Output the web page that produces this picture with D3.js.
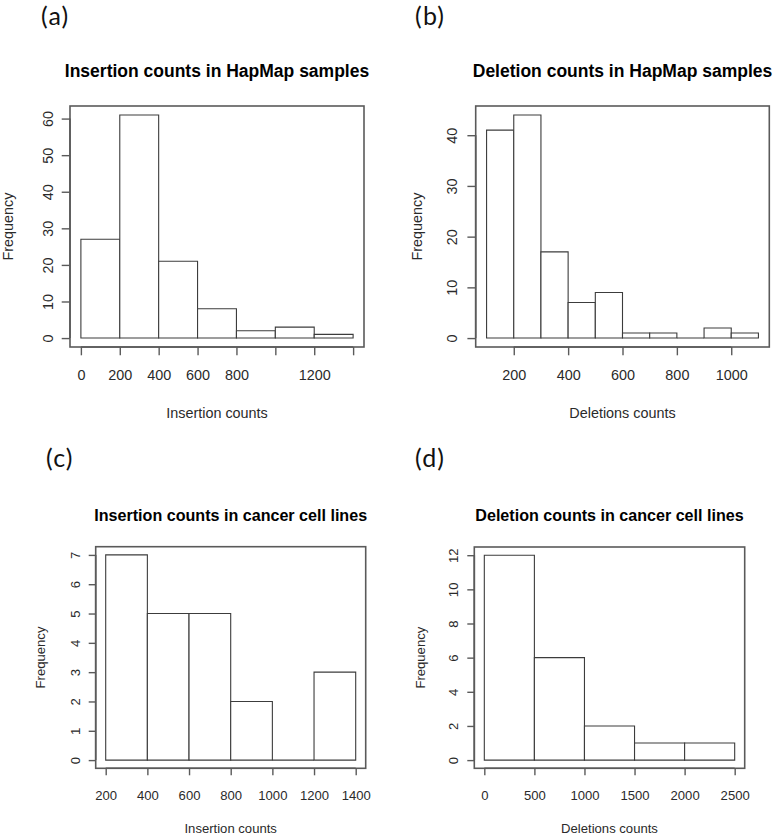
<!DOCTYPE html>
<html>
<head>
<meta charset="utf-8">
<script src="https://cdn.jsdelivr.net/npm/d3@7"></script>
<style>
  html, body { margin: 0; padding: 0; background: #fff; }
  svg { display: block; }
</style>
</head>
<body>
<svg id="chart" width="776" height="836"></svg>
<script>
// ---------- DATA ----------
const insHapBreaks = [0, 200, 400, 600, 800, 1000, 1200, 1400];
const insHapCounts = [27, 61, 21, 8, 2, 3, 1];
const insHapXTicks = [0, 200, 400, 600, 800, 1000, 1200, 1400];
const insHapXLabels = ["0", "200", "400", "600", "800", "", "1200", ""];
const insHapYTicks = [0, 10, 20, 30, 40, 50, 60];

const delHapBreaks = [100, 200, 300, 400, 500, 600, 700, 800, 900, 1000, 1100];
const delHapCounts = [41, 44, 17, 7, 9, 1, 1, 0, 2, 1];
const delHapXTicks = [200, 400, 600, 800, 1000];
const delHapXLabels = ["200", "400", "600", "800", "1000"];
const delHapYTicks = [0, 10, 20, 30, 40];

const insCancerBreaks = [200, 400, 600, 800, 1000, 1200, 1400];
const insCancerCounts = [7, 5, 5, 2, 0, 3];
const insCancerXTicks = [200, 400, 600, 800, 1000, 1200, 1400];
const insCancerXLabels = ["200", "400", "600", "800", "1000", "1200", "1400"];
const insCancerYTicks = [0, 1, 2, 3, 4, 5, 6, 7];

const delCancerBreaks = [0, 500, 1000, 1500, 2000, 2500];
const delCancerCounts = [12, 6, 2, 1, 1];
const delCancerXTicks = [0, 500, 1000, 1500, 2000, 2500];
const delCancerXLabels = ["0", "500", "1000", "1500", "2000", "2500"];
const delCancerYTicks = [0, 2, 4, 6, 8, 10, 12];

const panelLetters = ["(a)", "(b)", "(c)", "(d)"];
const titles = [
  "Insertion counts in HapMap samples",
  "Deletion counts in HapMap samples",
  "Insertion counts in cancer cell lines",
  "Deletion counts in cancer cell lines"
];
const xTitles = ["Insertion counts", "Deletions counts", "Insertion counts", "Deletions counts"];
const yTitle = "Frequency";

// ---------- LAYOUT ----------
const layout = [
  { box: [70, 106, 364, 347], tick: 8.3, fs: 14.4, tfs: 17.5, titleY: 76.5, tickLabY: 380, xTitleY: 417.5, yTickX: 52.7, yTitleX: 12.5, letter: [41, 25] },
  { box: [475.7, 106, 769.3, 347], tick: 8.3, fs: 14.4, tfs: 17.5, titleY: 76.5, tickLabY: 380, xTitleY: 417.5, yTickX: 456.5, yTitleX: 422, letter: [415, 25] },
  { box: [95.7, 546.7, 365.7, 768.3], tick: 7, fs: 13.1, tfs: 16.1, titleY: 520.5, tickLabY: 799.7, xTitleY: 832.5, yTickX: 80, yTitleX: 45, letter: [46, 467] },
  { box: [474.3, 547, 744.7, 768.3], tick: 7, fs: 13.1, tfs: 16.1, titleY: 520.5, tickLabY: 799.7, xTitleY: 832.5, yTickX: 458, yTitleX: 425, letter: [415, 467] }
];

const panels = [
  { breaks: insHapBreaks, counts: insHapCounts, xt: insHapXTicks, xl: insHapXLabels, yt: insHapYTicks },
  { breaks: delHapBreaks, counts: delHapCounts, xt: delHapXTicks, xl: delHapXLabels, yt: delHapYTicks },
  { breaks: insCancerBreaks, counts: insCancerCounts, xt: insCancerXTicks, xl: insCancerXLabels, yt: insCancerYTicks },
  { breaks: delCancerBreaks, counts: delCancerCounts, xt: delCancerXTicks, xl: delCancerXLabels, yt: delCancerYTicks }
];

const svg = d3.select("#chart");
const FONT = "'Liberation Sans', Arial, sans-serif";
const AXIS_COL = "#5a5a5a";
const BAR_COL = "#3c3c3c";
const TXT_COL = "#2a2a2a";

panels.forEach((p, i) => {
  const L = layout[i];
  const [x0, y0, x1, y1] = L.box;
  const xmin = d3.min(p.breaks), xmax = d3.max(p.breaks);
  const ymax = d3.max(p.counts);
  const xpad = (xmax - xmin) * 0.04, ypad = ymax * 0.04;
  const x = d3.scaleLinear().domain([xmin - xpad, xmax + xpad]).range([x0, x1]);
  const y = d3.scaleLinear().domain([-ypad, ymax + ypad]).range([y1, y0]);

  const g = svg.append("g");

  // panel letter
  g.append("text")
    .attr("x", L.letter[0]).attr("y", L.letter[1])
    .attr("font-family", "Lato, 'Open Sans', sans-serif")
    .attr("font-size", 25)
    .attr("letter-spacing", 1.2)
    .attr("fill", "#111")
    .text(panelLetters[i]);

  // title
  g.append("text")
    .attr("x", (x0 + x1) / 2).attr("y", L.titleY)
    .attr("text-anchor", "middle")
    .attr("font-family", FONT).attr("font-weight", "bold")
    .attr("font-size", L.tfs).attr("fill", "#000")
    .text(titles[i]);

  // bars (paths so empty bins still show their baseline, as R does)
  const bins = p.counts.map((c, k) => ({ a: p.breaks[k], b: p.breaks[k + 1], c }));
  g.selectAll("path.bar").data(bins).enter().append("path")
    .attr("class", "bar")
    .attr("d", d => `M${x(d.a)},${y(0)}V${y(d.c)}H${x(d.b)}V${y(0)}Z`)
    .attr("fill", "#fff")
    .attr("stroke", BAR_COL)
    .attr("stroke-width", 1.1);

  // box
  g.append("rect")
    .attr("x", x0).attr("y", y0)
    .attr("width", x1 - x0).attr("height", y1 - y0)
    .attr("fill", "none").attr("stroke", AXIS_COL).attr("stroke-width", 1.6);

  // x axis
  const xAxis = d3.axisBottom(x).tickValues(p.xt)
    .tickFormat((d, k) => p.xl[k]).tickSize(L.tick).tickPadding(0);
  const gx = g.append("g").attr("transform", `translate(0,${y1})`).call(xAxis);
  gx.select(".domain").attr("d", `M${x(p.xt[0])},0H${x(p.xt[p.xt.length - 1])}`)
    .attr("stroke", AXIS_COL).attr("stroke-width", 1.6);
  gx.selectAll(".tick line").attr("stroke", AXIS_COL).attr("stroke-width", 1.4);
  gx.selectAll(".tick text")
    .attr("y", L.tickLabY - y1).attr("dy", null)
    .attr("font-family", FONT).attr("font-size", L.fs).attr("fill", TXT_COL);

  // y axis
  const yAxis = d3.axisLeft(y).tickValues(p.yt).tickSize(L.tick).tickPadding(0);
  const gy = g.append("g").attr("transform", `translate(${x0},0)`).call(yAxis);
  gy.select(".domain").attr("d", `M0,${y(p.yt[0])}V${y(p.yt[p.yt.length - 1])}`)
    .attr("stroke", AXIS_COL).attr("stroke-width", 1.6);
  gy.selectAll(".tick line").attr("stroke", AXIS_COL).attr("stroke-width", 1.4);
  gy.selectAll(".tick text")
    .attr("x", null).attr("dy", null)
    .attr("transform", `translate(${L.yTickX - x0},0) rotate(-90)`)
    .attr("text-anchor", "middle")
    .attr("y", 0)
    .attr("font-family", FONT).attr("font-size", L.fs).attr("fill", TXT_COL);

  // x title
  g.append("text")
    .attr("x", (x0 + x1) / 2).attr("y", L.xTitleY)
    .attr("text-anchor", "middle")
    .attr("font-family", FONT).attr("font-size", L.fs).attr("fill", TXT_COL)
    .text(xTitles[i]);

  // y title
  g.append("text")
    .attr("transform", `translate(${L.yTitleX},${(y0 + y1) / 2}) rotate(-90)`)
    .attr("text-anchor", "middle")
    .attr("font-family", FONT).attr("font-size", L.fs).attr("fill", TXT_COL)
    .text(yTitle);
});
</script>
</body>
</html>
